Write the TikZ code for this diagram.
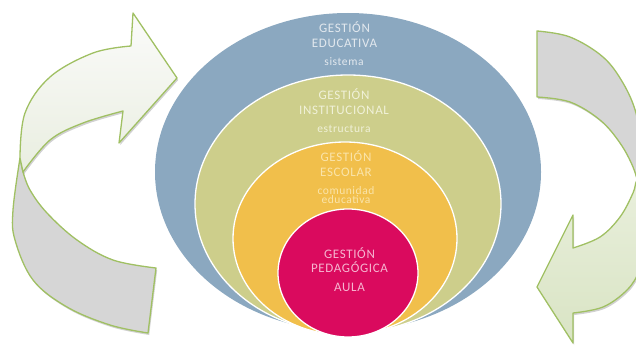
\documentclass[tikz,border=0pt]{standalone}
\usepackage{fontspec}
\usetikzlibrary{shapes.geometric}
\newfontfamily\lblfont[LetterSpace=5]{Carlito}
\definecolor{cblue}{HTML}{8BA8C0}
\definecolor{cgreen}{HTML}{CDCE8B}
\definecolor{cyellow}{HTML}{F1BF4B}
\definecolor{cmag}{HTML}{DA0A5E}
\definecolor{tblue}{HTML}{E2E8EE}
\definecolor{tgreen}{HTML}{F0F1D8}
\definecolor{tyellow}{HTML}{FAE4AA}
\definecolor{tmag}{HTML}{F6B5D0}
\definecolor{arrline}{HTML}{A0C063}
\definecolor{arrgray}{HTML}{D6D6D6}
\definecolor{lbtop}{HTML}{FBFBFA}
\definecolor{lbbot}{HTML}{E9EEE0}
\definecolor{rbtop}{HTML}{EAF0DE}
\definecolor{rbbot}{HTML}{D9E4C4}
\tikzset{
  ring/.style={ellipse, inner sep=0pt, draw=white, line width=1.3pt},
  captext/.style={anchor=base, inner sep=0pt, font=\lblfont\fontsize{13}{14}\selectfont},
  lowtext/.style={anchor=base, inner sep=0pt, font=\lblfont\fontsize{11.5}{12}\selectfont},
  band/.style={draw=arrline, line width=1.3pt, line join=round},
  bandshadow/.style={fill=black, opacity=0.18, shift={(1.2pt,-2pt)}},
}
\begin{document}
\begin{tikzpicture}[x=1pt, y=-1pt]
\useasboundingbox (0,0) rectangle (636,345);
\clip (0,0) rectangle (636,345);
% left arrow
\def\leftgray{plot[smooth, tension=0.6] coordinates {(20,158) (13,210) (15,240) (33,280) (67,307) (110,325) (148,333)}
  -- (156,268)
  -- plot[smooth, tension=0.6] coordinates {(156,268) (113,260) (77,240) (47,213) (30,190) (23,172)}
  -- cycle}
\def\leftlight{(131,46) -- (133,13) -- (177,78) -- (119,143) -- (123,111)
  -- plot[smooth, tension=0.6] coordinates {(123,111) (83,123) (50,140) (23,172)}
  -- plot[smooth, tension=0.6] coordinates {(20,158) (25,113) (50,77) (93,53) (131,46)}
  -- cycle}
\path[bandshadow] \leftgray;
\path[band, fill=arrgray] \leftgray;
\path[bandshadow] \leftlight;
\path[band, top color=lbtop, bottom color=lbbot] \leftlight;
% right arrow
\def\rightgray{(537,97) -- (537,31)
  -- plot[smooth, tension=0.6] coordinates {(537,31) (570,37) (603,57) (623,83) (636,113) (642,150) (644,190)}
  -- plot[smooth, tension=0.6] coordinates {(640,190) (633,167) (620,143) (600,120) (570,102) (537,97)}
  -- cycle}
\def\rightlight{(573,248) -- (573,215) -- (537,287) -- (573,343) -- (573,313)
  -- plot[smooth, tension=0.6] coordinates {(573,313) (603,307) (627,290) (640,270) (652,240) (655,200)}
  -- plot[smooth, tension=0.6] coordinates {(648,165) (637,180) (633,193) (620,217) (600,237) (573,248)}
  -- cycle}
\path[bandshadow] \rightgray;
\path[band, fill=arrgray] \rightgray;
\path[bandshadow] \rightlight;
\path[band, top color=rbtop, bottom color=rbbot] \rightlight;
% nested ellipses
\node[ring, draw=none, fill=cblue, minimum width=386pt, minimum height=318pt] (educ) at (348,172) {};
\node[ring, fill=cgreen, minimum width=306pt, minimum height=258pt] (inst) at (348,204) {};
\node[ring, fill=cyellow, minimum width=224pt, minimum height=193pt] (esc) at (345,238.5) {};
\node[ring, fill=cmag, minimum width=140pt, minimum height=128pt] (ped) at (348,273) {};
% labels
\node[captext, text=tblue] (e1) at (344.5,33) {GESTIÓN};
\node[captext, text=tblue] (e2) at (344.5,47.5) {EDUCATIVA};
\node[lowtext, text=tblue] (e3) at (344,65) {sistema};
\node[captext, text=tgreen] (i1) at (344,99) {GESTIÓN};
\node[captext, text=tgreen] (i2) at (344,114) {INSTITUCIONAL};
\node[lowtext, text=tgreen] (i3) at (344,132) {estructura};
\node[captext, text=tyellow] (s1) at (346,161) {GESTIÓN};
\node[captext, text=tyellow] (s2) at (346,176) {ESCOLAR};
\node[lowtext, text=tyellow] (s3) at (346,194) {comunidad};
\node[lowtext, text=tyellow] (s4) at (346,203) {educativa};
\node[captext, text=tmag] (p1) at (349.5,258) {GESTIÓN};
\node[captext, text=tmag] (p2) at (349.5,272.5) {PEDAGÓGICA};
\node[captext, text=tmag] (p3) at (349.5,291) {AULA};
\end{tikzpicture}
\end{document}
